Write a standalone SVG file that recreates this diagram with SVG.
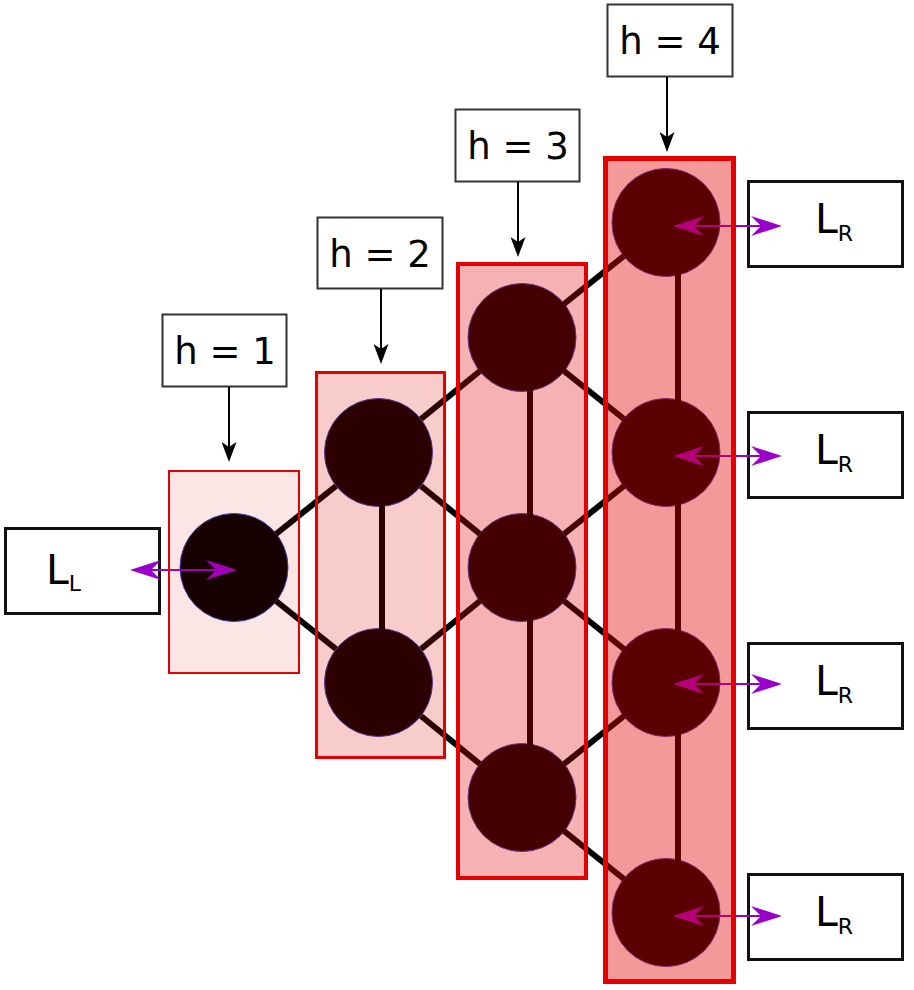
<svg xmlns="http://www.w3.org/2000/svg" width="914" height="990" viewBox="0 0 914 990">
<defs>
<style>
.hbox{fill:#fff;stroke:#333;stroke-width:2}
.lbox{fill:#fff;stroke:#111;stroke-width:3}
.htxt{font-family:"DejaVu Sans",Verdana,sans-serif;font-size:37px;fill:#000;text-anchor:middle}
.ltxt{font-family:"DejaVu Sans",Verdana,sans-serif;font-size:41px;fill:#000}
.sub{font-size:22px}
.node{fill:#000;stroke:#3344bb;stroke-width:1}
.edge{stroke:#000;stroke-width:6;fill:none}
.harr{stroke:#000;stroke-width:2;fill:none;marker-end:url(#blk)}
.parr{stroke:#9900cc;stroke-width:2;fill:none;marker-start:url(#pur);marker-end:url(#pur)}
.layer{fill:#e00000;stroke:#e60000}
</style>
<marker id="blk" viewBox="0 0 20 15" refX="15" refY="7.5" markerWidth="20" markerHeight="15" markerUnits="userSpaceOnUse" orient="auto">
<path d="M0,0 L20,7.5 L0,15 L5,7.5 z" fill="#000"/>
</marker>
<marker id="pur" viewBox="0 0 31 20" refX="21" refY="10" markerWidth="31" markerHeight="20" markerUnits="userSpaceOnUse" orient="auto-start-reverse">
<path d="M0,0 L31,10 L0,20 L10,10 z" fill="#9900cc"/>
</marker>
</defs>

<g id="h1"><rect class="hbox" x="162.5" y="314.5" width="124" height="72"/><text class="htxt" x="225" y="363.5">h = 1</text></g>
<g id="h2"><rect class="hbox" x="317.5" y="217.5" width="125" height="71"/><text class="htxt" x="380" y="266.5">h = 2</text></g>
<g id="h3"><rect class="hbox" x="455.5" y="109.5" width="124" height="72"/><text class="htxt" x="518" y="158.5">h = 3</text></g>
<g id="h4"><rect class="hbox" x="607.5" y="4.5" width="125" height="72"/><text class="htxt" x="670" y="54">h = 4</text></g>

<g id="LL"><rect class="lbox" x="5.5" y="528.5" width="154" height="85"/><text class="ltxt" x="46" y="584">L<tspan class="sub" dy="7">L</tspan></text></g>
<g id="LR1"><rect class="lbox" x="748.5" y="181.5" width="154" height="85"/><text class="ltxt" x="815" y="233">L<tspan class="sub" dy="8">R</tspan></text></g>
<g id="LR2"><rect class="lbox" x="748.5" y="412.5" width="154" height="85"/><text class="ltxt" x="815" y="464">L<tspan class="sub" dy="8">R</tspan></text></g>
<g id="LR3"><rect class="lbox" x="748.5" y="643.5" width="154" height="85"/><text class="ltxt" x="815" y="695">L<tspan class="sub" dy="8">R</tspan></text></g>
<g id="LR4"><rect class="lbox" x="748.5" y="874.5" width="154" height="85"/><text class="ltxt" x="815" y="926">L<tspan class="sub" dy="8">R</tspan></text></g>

<g id="n1"><circle class="node" cx="234" cy="567.5" r="54"/></g>
<g id="n2a"><circle class="node" cx="378.5" cy="452.5" r="54"/></g>
<g id="n2b"><circle class="node" cx="378.5" cy="682.5" r="54"/></g>
<g id="n3a"><circle class="node" cx="522" cy="337.5" r="54"/></g>
<g id="n3b"><circle class="node" cx="522" cy="567.5" r="54"/></g>
<g id="n3c"><circle class="node" cx="522" cy="797.5" r="54"/></g>
<g id="n4a"><circle class="node" cx="666" cy="222.5" r="54"/></g>
<g id="n4b"><circle class="node" cx="666" cy="452.5" r="54"/></g>
<g id="n4c"><circle class="node" cx="666" cy="682.5" r="54"/></g>
<g id="n4d"><circle class="node" cx="666" cy="912.5" r="54"/></g>

<g id="connectors">
<line class="edge" x1="276" y1="534" x2="336" y2="486"/>
<line class="edge" x1="276" y1="601" x2="336" y2="649"/>
<line class="edge" x1="382" y1="500" x2="382" y2="635"/>
<line class="edge" x1="421" y1="419" x2="480" y2="371"/>
<line class="edge" x1="421" y1="486" x2="480" y2="534"/>
<line class="edge" x1="421" y1="649" x2="480" y2="601"/>
<line class="edge" x1="421" y1="716" x2="480" y2="764"/>
<line class="edge" x1="530" y1="385" x2="530" y2="520"/>
<line class="edge" x1="530" y1="615" x2="530" y2="750"/>
<line class="edge" x1="564" y1="304" x2="624" y2="256"/>
<line class="edge" x1="564" y1="371" x2="624" y2="419"/>
<line class="edge" x1="564" y1="534" x2="624" y2="486"/>
<line class="edge" x1="564" y1="601" x2="624" y2="649"/>
<line class="edge" x1="564" y1="764" x2="624" y2="716"/>
<line class="edge" x1="564" y1="831" x2="624" y2="879"/>
<line class="edge" x1="678" y1="270" x2="678" y2="405"/>
<line class="edge" x1="678" y1="500" x2="678" y2="635"/>
<line class="edge" x1="678" y1="730" x2="678" y2="865"/>
<line class="harr" x1="229" y1="387" x2="229" y2="457"/>
<line class="harr" x1="381" y1="289" x2="381" y2="359"/>
<line class="harr" x1="518" y1="182" x2="518" y2="252"/>
<line class="harr" x1="667" y1="77" x2="667" y2="147"/>
<line class="parr" x1="140" y1="570" x2="227" y2="570"/>
<line class="parr" x1="683" y1="226" x2="772" y2="226"/>
<line class="parr" x1="683" y1="456" x2="772" y2="456"/>
<line class="parr" x1="683" y1="684" x2="772" y2="684"/>
<line class="parr" x1="683" y1="916" x2="772" y2="916"/>
</g>

<g id="layer1"><rect class="layer" x="169" y="471" width="130" height="202" fill-opacity="0.1" stroke-width="2"/></g>
<g id="layer2"><rect class="layer" x="316.5" y="372.5" width="128" height="385" fill-opacity="0.2" stroke-width="3"/></g>
<g id="layer3"><rect class="layer" x="458" y="264" width="128" height="614" fill-opacity="0.3" stroke-width="4"/></g>
<g id="layer4"><rect class="layer" x="605.5" y="158.5" width="128" height="823" fill-opacity="0.4" stroke-width="5"/></g>
</svg>
